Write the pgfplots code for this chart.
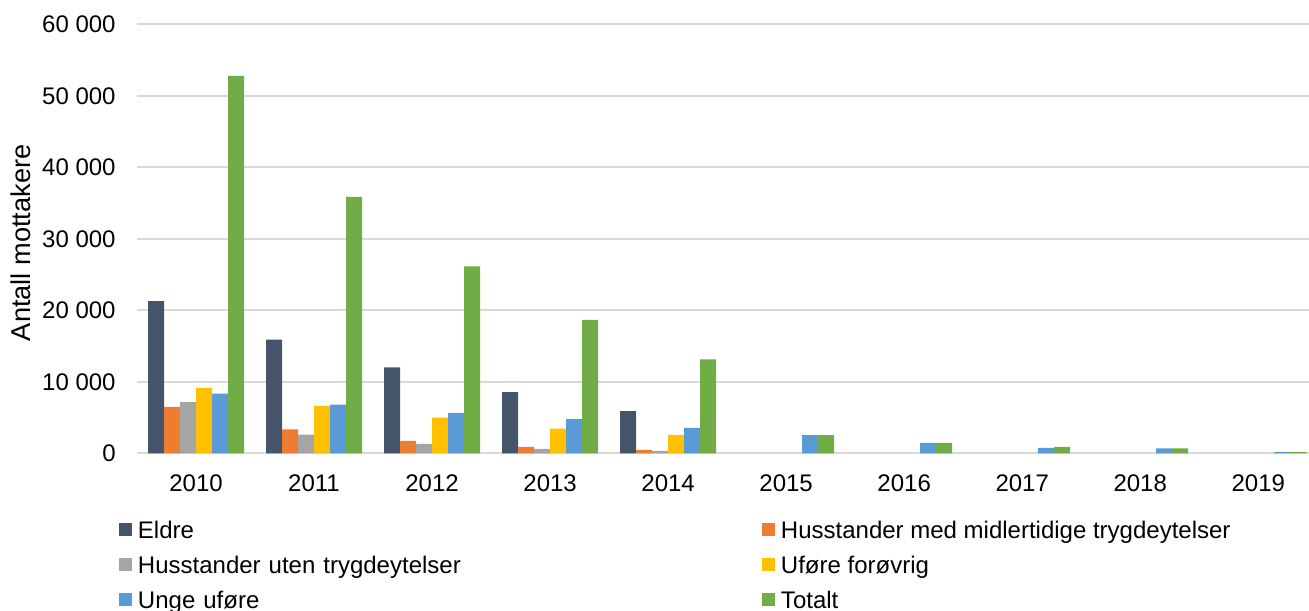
\documentclass[border=0pt]{standalone}
\usepackage{pgfplots}
\pgfplotsset{compat=1.18}
\usepackage{fontspec}
\setmainfont{Liberation Sans}
\definecolor{cEldre}{HTML}{44546A}
\definecolor{cMid}{HTML}{ED7D31}
\definecolor{cUten}{HTML}{A5A5A5}
\definecolor{cUfore}{HTML}{FFC000}
\definecolor{cUnge}{HTML}{5B9BD5}
\definecolor{cTot}{HTML}{70AD47}
\definecolor{gridgray}{HTML}{D9D9D9}
\begin{document}
\begin{tikzpicture}
\fontsize{12}{14}\selectfont
\begin{axis}[
  at={(68.5pt,78.35pt)}, anchor=south west,
  scale only axis, width=586pt, height=214.5pt,
  xmin=-0.5, xmax=9.43, ymin=0, ymax=60000,
  scaled y ticks=false,
  ybar=0pt, bar width=8pt,
  axis x line*=bottom, axis y line*=left,
  x axis line style={draw=gridgray, line width=0.9pt, -},
  y axis line style={draw=none},
  major tick length=0pt,
  ymajorgrids, grid style={gridgray, line width=0.8pt},
  xtick={0,...,9},
  xticklabels={2010,2011,2012,2013,2014,2015,2016,2017,2018,2019},
  ytick={0,10000,20000,30000,40000,50000,60000},
  yticklabels={0,{10 000},{20 000},{30 000},{40 000},{50 000},{60 000}},
  xticklabel style={inner sep=0pt, anchor=north, yshift=-10.5pt, font=\fontsize{12}{14}\selectfont},
  yticklabel style={inner sep=0pt, anchor=east, xshift=-10.5pt, font=\fontsize{12}{14}\selectfont},
  ylabel={Antall mottakere},
  every axis y label/.style={at={(axis description cs:-0.099,0.4907)}, rotate=90, anchor=center, font=\fontsize{13.6}{16}\selectfont},
  legend columns=2,
  legend image code/.code={\fill[#1] (0pt,-3.25pt) rectangle (6.5pt,3.25pt);},
  legend style={
    at={(axis description cs:-0.01536,-0.1587)}, anchor=north west,
    draw=none, fill=none, inner sep=0pt, outer sep=0pt,
    font=\fontsize{12}{14}\selectfont,
    row sep=8.9pt,
    cells={anchor=west},
    nodes={inner sep=0pt, text height=8.6pt, text depth=0pt},
    /tikz/every odd column/.style={column sep=3pt},
    /tikz/column 2/.style={text width=312pt},
  },
]
\addplot[fill=cEldre, draw=none] coordinates {(0,21300) (1,15890) (2,12010) (3,8550) (4,5890)};
\addlegendentry{Eldre}
\addplot[fill=cMid, draw=none] coordinates {(0,6500) (1,3360) (2,1730) (3,890) (4,470)};
\addlegendentry{Husstander med midlertidige trygdeytelser}
\addplot[fill=cUten, draw=none] coordinates {(0,7150) (1,2620) (2,1310) (3,610) (4,330)};
\addlegendentry{Husstander uten trygdeytelser}
\addplot[fill=cUfore, draw=none] coordinates {(0,9160) (1,6640) (2,5000) (3,3460) (4,2570)};
\addlegendentry{Uføre forøvrig}
\addplot[fill=cUnge, draw=none] coordinates {(0,8360) (1,6820) (2,5650) (3,4770) (4,3550) (5,2530) (6,1450) (7,750) (8,700) (9,190)};
\addlegendentry{Unge uføre}
\addplot[fill=cTot, draw=none] coordinates {(0,52800) (1,35850) (2,26130) (3,18650) (4,13130) (5,2530) (6,1450) (7,890) (8,700) (9,190)};
\addlegendentry{Totalt}
\end{axis}
\pgfresetboundingbox
\path (0,0) rectangle (654.5pt,305pt);
\end{tikzpicture}
\end{document}
